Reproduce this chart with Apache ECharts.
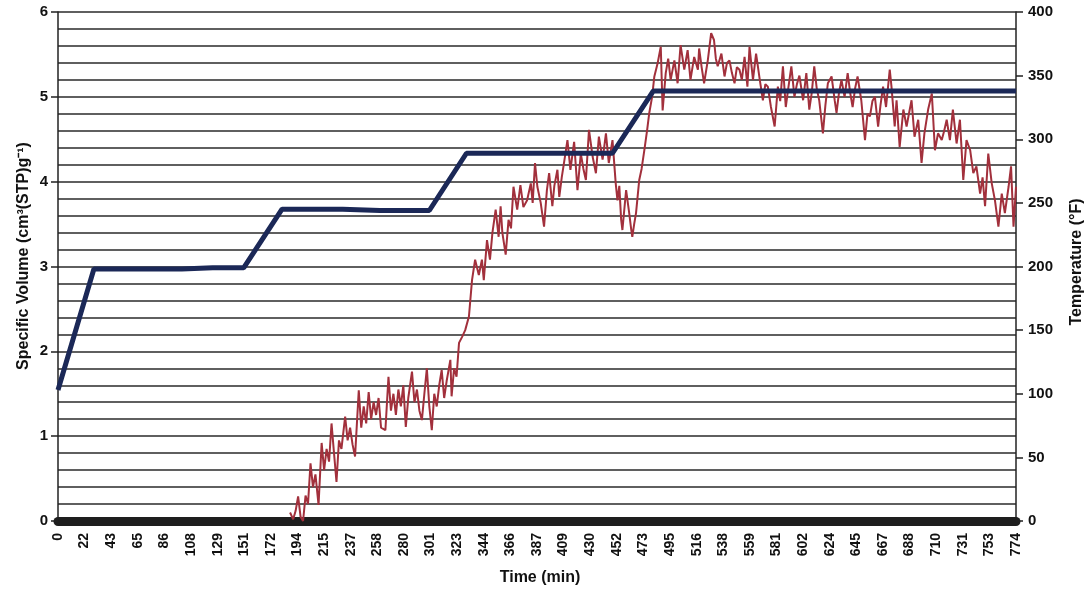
<!DOCTYPE html>
<html>
<head>
<meta charset="utf-8">
<script src="https://cdn.jsdelivr.net/npm/echarts@6/dist/echarts.min.js"></script>
<style>
html,body{margin:0;padding:0;background:#fff;}
#chart{width:1090px;height:593px;}
</style>
</head>
<body>
<div id="chart"></div>
<script>
// X tick labels (minutes), one every 21.5 min
const timeTickLabels = ['0','22','43','65','86','108','129','151','172','194','215','237','258','280','301','323','344','366','387','409','430','452','473','495','516','538','559','581','602','624','645','667','688','710','731','753','774'];
const tickStep = 21.5;

// Axis titles
const xTitle = 'Time (min)';
const yLeftTitle = 'Specific Volume (cm³(STP)g⁻¹)';
const yRightTitle = 'Temperature (°F)';

// Temperature (right axis, °F) – dark blue step profile
const tempTime = [0, 29, 45, 70, 100, 125, 150, 181, 200, 230, 260, 300, 330, 360, 400, 448, 481, 520, 560, 600, 650, 700, 740, 774];
const tempValue = [103, 198, 198, 198, 198, 199, 199, 245, 245, 245, 244, 244, 289, 289, 289, 289, 338, 338, 338, 338, 338, 338, 338, 338];

// Specific volume (left axis, cm3(STP)/g) – red noisy trace
const volTime = [187.5,190,192,194,196,198,200,202,204,206,208,210.5,213,215,217,219,221,223,225,227,229,232,234,236,238,240,243,245,247,249,251,253,255,257,259,261,264.5,267,269,271,273,275,277,279,281,283,286,288,290,292,294,296,298,300,302,304,306,308,310,312,314,317,318,320,322,324,326.5,329,332,334.5,337,340,342.5,344,346.6,349,351,353.6,356,357.6,359,361.7,364,366,368,371,373.6,376,379,382,383.5,385.4,387.3,390,392.7,395,396.8,399.4,401,403.5,405,407,409,411.6,414,417,419.7,422.4,424.5,426.5,429,432,434.6,437,440,442.7,445,448,450.6,452,453.5,455,456,459,461.5,463,464,465.5,467,469.6,471.5,473.7,476,477.7,480,481.8,484.5,487,488.5,491,493,495,498,500.6,503,506,508.7,511,514,517,518,520,522,525,527.7,530,531.5,533,536,538.5,540.5,542.5,544.5,546.6,548.5,550.6,552.5,554.7,557,558.7,561.5,564,567,569.5,571.5,573.5,576,579,581.6,583.5,585.7,588,590,592.5,595,597,599,602,604.6,607,609,611,613,615,618,620,622,625,627.5,629,631,633,635.5,638,640,642,644,646,649,652,654,656,658,660,662.6,664.5,666.6,669,672,673.4,676,677.5,680,683,685.6,687.5,689.6,692,695,697.7,700,703,706,708.5,711,714,716,718,720.6,723,726,728.7,731.4,734,737,739.5,742,745,747,749,751.6,754.4,757,759.8,762.5,765,768,770,772,774];
const volValue = [0.10,0.02,0.12,0.29,0.05,0.00,0.30,0.20,0.68,0.40,0.55,0.19,0.92,0.60,0.85,0.70,1.15,0.80,0.46,0.95,0.85,1.23,0.95,1.10,0.90,0.76,1.54,1.10,1.35,1.15,1.52,1.20,1.40,1.25,1.45,1.10,1.07,1.70,1.30,1.50,1.25,1.55,1.35,1.60,1.11,1.45,1.76,1.40,1.55,1.30,1.19,1.50,1.80,1.35,1.07,1.50,1.35,1.60,1.78,1.45,1.65,1.90,1.47,1.80,1.70,2.10,2.17,2.25,2.41,2.84,3.08,2.90,3.08,2.84,3.31,3.08,3.40,3.67,3.35,3.71,3.40,3.14,3.55,3.45,3.94,3.67,3.96,3.70,3.78,3.98,3.75,4.22,3.94,3.75,3.47,3.90,4.10,3.71,3.95,4.14,3.82,4.05,4.24,4.49,4.14,4.47,3.90,4.33,4.15,4.02,4.61,4.29,4.10,4.53,4.26,4.57,4.22,4.49,3.98,3.78,3.95,3.55,3.43,3.90,3.63,3.45,3.35,3.50,3.63,4.02,4.15,4.37,4.61,4.81,5.00,5.24,5.40,5.59,4.84,5.28,5.45,5.20,5.43,5.16,5.61,5.32,5.55,5.20,5.47,5.32,5.57,5.35,5.16,5.43,5.75,5.67,5.45,5.36,5.51,5.24,5.40,5.43,5.28,5.16,5.35,5.32,5.20,5.47,5.12,5.59,5.20,5.51,5.20,4.96,5.15,5.12,4.88,4.65,5.12,4.95,5.36,4.88,5.10,5.36,5.00,5.15,5.25,4.96,5.28,4.85,5.05,5.36,5.10,4.96,4.57,4.90,5.16,5.24,4.96,4.81,5.05,5.20,5.00,5.28,5.05,4.88,5.10,5.24,4.96,4.49,4.80,4.77,4.95,5.00,4.65,4.90,5.12,4.88,5.32,5.12,4.65,4.96,4.41,4.85,4.65,4.80,4.96,4.53,4.73,4.22,4.57,4.85,5.04,4.37,4.57,4.49,4.60,4.73,4.49,4.85,4.45,4.73,4.02,4.49,4.37,4.10,4.18,3.86,4.05,3.71,4.33,3.98,3.78,3.47,3.86,3.63,3.94,4.18,3.47,3.94];

const volData = volTime.map((t, i) => [t, volValue[i]]);
const tempData = tempTime.map((t, i) => [t, tempValue[i]]);

const FONT = '"Liberation Sans", Arial, sans-serif';
const titleStyle = {fontFamily: FONT, fontWeight: 'bold', fontSize: 16, fill: '#111'};
const chart = echarts.init(document.getElementById('chart'), null, {renderer: 'canvas'});
chart.setOption({
  animation: false,
  backgroundColor: '#ffffff',
  grid: {left: 58, right: 74, top: 12, bottom: 72, containLabel: false},
  graphic: [
    {type: 'text', x: 540, y: 578, style: Object.assign({text: xTitle, align: 'center', verticalAlign: 'middle'}, titleStyle)},
    {type: 'text', x: 24, y: 256, rotation: Math.PI / 2, style: Object.assign({text: yLeftTitle, align: 'center', verticalAlign: 'middle'}, titleStyle)},
    {type: 'text', x: 1077, y: 262, rotation: Math.PI / 2, style: Object.assign({text: yRightTitle, align: 'center', verticalAlign: 'middle'}, titleStyle)}
  ],
  xAxis: {
    type: 'value',
    min: 0, max: 774, interval: tickStep,
    axisLine: {onZero: false, lineStyle: {color: '#1e1e1e', width: 9}},
    axisTick: {show: false},
    splitLine: {show: false},
    axisLabel: {
      rotate: 90, margin: 12, fontFamily: FONT, fontSize: 14, fontWeight: 'bold', color: '#111',
      showMinLabel: true, showMaxLabel: true,
      formatter: v => { const i = Math.round(v / tickStep); return timeTickLabels[i] ?? ''; }
    }
  },
  yAxis: [
    {
      type: 'value', position: 'left', min: 0, max: 6, interval: 1,
      axisLine: {show: true, lineStyle: {color: '#222', width: 1.5}},
      axisTick: {show: true, length: 7, lineStyle: {color: '#222', width: 1.5}},
      axisLabel: {fontFamily: FONT, fontSize: 15, fontWeight: 'bold', color: '#111', margin: 10},
      splitLine: {show: true, lineStyle: {color: '#2a2a2a', width: 1.7}},
      minorTick: {show: false, splitNumber: 5},
      minorSplitLine: {show: true, lineStyle: {color: '#2a2a2a', width: 1.7}}
    },
    {
      type: 'value', position: 'right', min: 0, max: 400, interval: 50,
      axisLine: {show: true, lineStyle: {color: '#222', width: 1.5}},
      axisTick: {show: true, length: 7, lineStyle: {color: '#222', width: 1.5}},
      axisLabel: {fontFamily: FONT, fontSize: 15, fontWeight: 'bold', color: '#111', margin: 12},
      splitLine: {show: false}
    }
  ],
  series: [
    {
      name: 'Specific Volume', type: 'line', yAxisIndex: 0,
      data: volData, showSymbol: false, symbol: 'none',
      lineStyle: {color: '#a2303c', width: 2}, z: 3
    },
    {
      name: 'Temperature', type: 'line', yAxisIndex: 1,
      data: tempData, showSymbol: false, symbol: 'none',
      lineStyle: {color: '#1b2857', width: 5}, z: 4
    }
  ]
});
</script>
</body>
</html>
